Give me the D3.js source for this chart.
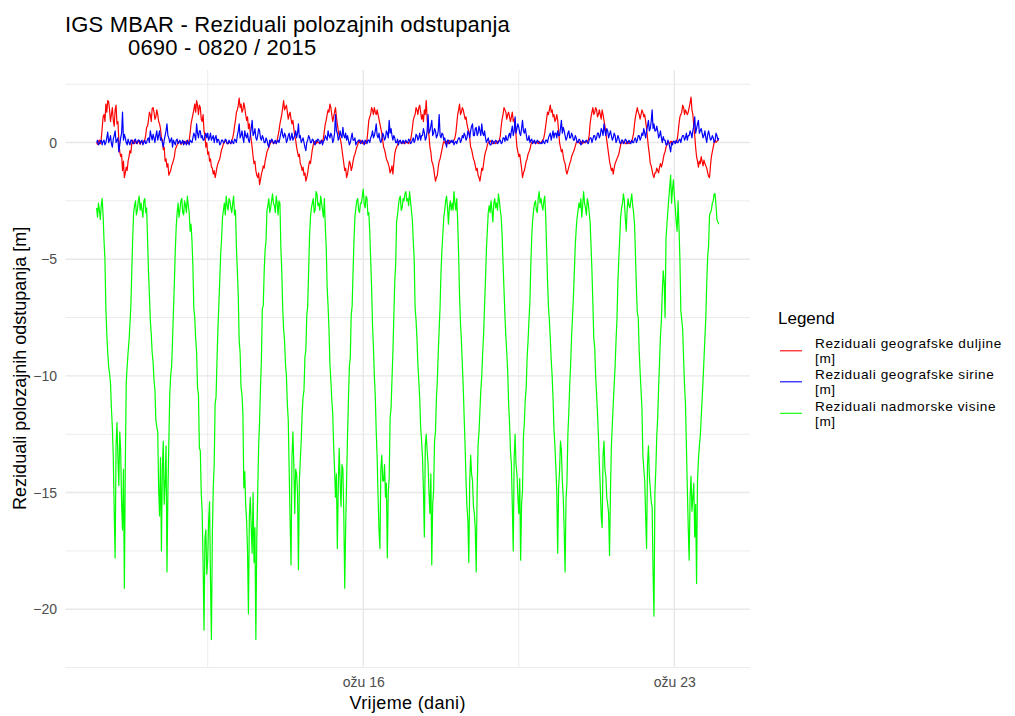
<!DOCTYPE html>
<html><head><meta charset="utf-8">
<script src="https://cdn.jsdelivr.net/npm/d3@7/dist/d3.min.js"></script>
<style>
html,body{margin:0;padding:0;background:#fff;}
svg{display:block;font-family:"Liberation Sans",Arial,sans-serif;}
</style></head>
<body>
<svg id="chart" width="1015" height="716"></svg>
<script>
// ---- data: 30-minute samples, one row per day, from 2015-03-10 00:00 (UTC); last row also holds 2015-03-24 00:00 ----
const startDate = "2015-03-10T00:00:00Z";
const samplesPerDay = 48;
const seriesNames = ["Reziduali geografske duljine\n[m]", "Reziduali geografske sirine\n[m]", "Reziduali nadmorske visine\n[m]"];
const seriesColors = ["#ff0000", "#0000ff", "#00ff00"];

const duljina = [
 [0.0,-0.08,0.05,0.1,-0.05,0.15,0.6,1.1,1.2,0.9,1.65,1.3,1.8,1.75,1.4,0.9,1.2,1.5,0.95,0.7,1.4,1.6,0.8,0.9,0.1,-0.4,-0.6,-0.5,-1.2,-0.8,-1.5,-1.3,-1.05,-1.2,-0.8,-0.6,-0.35,-0.45,-0.05,0.1,0.0,-0.05,0.08,0.0,-0.05,0.1,0.02,-0.08],
 [0.05,0.0,-0.05,0.08,0.1,0.3,0.65,0.7,0.95,1.3,1.2,0.9,1.45,1.5,1.3,1.0,1.1,1.4,1.2,0.9,0.8,0.6,0.2,0.1,-0.3,-0.2,-0.8,-0.7,-1.05,-0.9,-1.4,-1.3,-1.2,-1.0,-0.9,-0.75,-0.6,-0.3,-0.2,-0.1,0.0,0.05,0.05,-0.08,-0.05,0.05,0.05,-0.05],
 [0.0,0.08,-0.05,0.0,0.1,0.4,0.8,1.0,1.2,1.4,1.65,1.3,1.8,1.6,1.2,1.6,1.5,1.0,0.9,1.2,0.5,0.3,-0.2,0.0,-0.5,-0.4,-0.8,-0.7,-1.05,-1.1,-1.35,-1.2,-1.5,-1.3,-1.05,-0.9,-0.8,-0.7,-0.5,-0.3,-0.2,-0.05,0.0,0.1,0.05,-0.05,-0.05,0.05],
 [0.0,-0.05,0.1,0.2,0.4,0.7,0.95,1.3,1.4,1.6,1.9,1.5,1.65,1.3,1.4,1.7,1.5,1.2,0.95,1.1,0.6,0.8,0.4,0.1,-0.2,-0.6,-0.9,-0.8,-1.2,-1.4,-1.5,-1.3,-1.8,-1.6,-1.35,-1.2,-1.0,-1.1,-0.8,-0.6,-0.4,-0.3,-0.2,-0.1,0.0,0.08,0.05,-0.05],
 [0.0,0.05,-0.05,0.1,0.3,0.5,0.8,1.0,1.2,1.5,1.8,1.4,1.5,1.6,1.3,1.0,1.2,1.3,1.0,0.8,0.95,0.6,0.3,0.1,-0.2,-0.4,-0.6,-0.5,-0.9,-1.0,-1.2,-1.05,-1.4,-1.3,-1.65,-1.5,-1.3,-1.0,-0.8,-0.9,-0.6,-0.3,-0.1,0.05,0.0,-0.05,0.05,0.0],
 [0.0,-0.05,0.05,0.1,0.0,0.2,0.5,0.8,0.95,1.2,1.4,1.3,1.65,1.5,1.2,0.9,1.1,1.3,1.5,1.1,0.8,0.5,0.3,0.2,0.0,-0.3,-0.6,-0.9,-1.2,-1.1,-1.5,-1.35,-1.1,-0.8,-0.9,-1.2,-1.05,-0.8,-0.6,-0.5,-0.35,-0.2,-0.1,0.05,0.0,0.1,0.05,-0.05],
 [0.0,0.05,-0.05,0.0,0.1,0.5,0.95,1.1,1.2,1.5,1.4,1.2,1.5,1.3,1.2,1.4,1.2,1.0,0.8,0.6,0.4,0.1,-0.2,-0.3,-0.5,-0.7,-0.8,-0.9,-1.05,-1.3,-1.2,-1.0,-1.35,-0.9,-0.5,-0.3,-0.2,-0.1,0.0,0.08,0.05,0.0,-0.05,0.05,0.0,-0.05,0.05,0.0],
 [0.0,-0.05,0.05,0.1,0.3,0.6,0.95,1.1,1.2,1.5,1.4,1.2,1.5,1.6,1.3,1.0,1.2,0.9,1.4,1.2,1.8,1.0,0.5,0.3,-0.2,-0.4,-0.8,-0.9,-1.1,-1.4,-1.65,-1.5,-1.4,-1.05,-0.8,-0.7,-0.5,-0.3,-0.1,0.05,0.0,-0.05,0.05,0.0,-0.05,0.08,0.0,0.05],
 [0.05,0.0,0.1,0.2,0.4,0.8,1.2,1.4,1.65,1.2,1.3,1.5,1.4,1.2,1.0,1.1,0.8,0.6,0.5,0.2,-0.2,-0.3,-0.5,-0.7,-0.8,-1.0,-1.2,-1.1,-1.4,-1.5,-1.65,-1.4,-1.1,-1.2,-0.9,-0.6,-0.4,-0.3,-0.1,0.0,0.0,0.08,0.05,-0.05,-0.05,0.05,0.0,-0.05],
 [0.0,0.05,0.05,0.1,0.3,0.7,1.0,1.2,1.5,1.4,1.3,1.0,1.2,1.3,1.1,0.9,1.1,1.3,0.9,1.0,0.8,0.3,-0.2,-0.4,-0.6,-0.5,-0.8,-1.1,-1.5,-1.3,-1.2,-1.0,-0.8,-0.7,-0.5,-0.4,-0.3,-0.1,0.0,0.05,0.05,0.0,-0.05,0.05,0.0,-0.05,0.05,0.0],
 [0.0,0.05,0.1,0.2,0.4,0.7,1.0,1.3,1.2,1.4,1.6,1.3,1.4,1.1,1.2,0.9,1.0,1.2,0.95,0.5,0.0,-0.2,-0.4,-0.3,-0.6,-0.8,-0.9,-1.2,-1.35,-1.2,-1.05,-0.9,-0.8,-0.6,-0.5,-0.4,-0.3,-0.15,0.0,0.05,0.05,0.0,-0.05,0.05,0.0,-0.05,0.05,0.0],
 [0.0,0.05,0.05,0.1,0.3,0.8,1.1,1.3,1.5,1.2,1.3,1.5,1.4,1.1,1.2,1.4,1.2,1.0,1.4,1.2,0.95,0.7,0.4,0.1,-0.2,-0.5,-0.8,-1.0,-1.2,-1.1,-1.35,-1.1,-0.9,-0.8,-0.7,-0.6,-0.5,-0.3,-0.1,0.0,0.0,0.05,0.05,-0.05,-0.05,0.05,0.0,-0.05],
 [0.0,0.05,0.05,0.2,0.4,0.8,1.1,1.3,1.5,1.3,1.2,1.0,1.2,1.4,1.3,1.1,1.2,0.9,0.6,0.2,-0.2,-0.5,-0.9,-1.0,-1.2,-1.4,-1.5,-1.3,-1.3,-1.1,-1.2,-1.3,-1.05,-0.9,-1.05,-0.9,-0.7,-0.5,-0.4,-0.2,-0.1,0.05,0.0,-0.05,0.05,0.05,0.0,0.05],
 [0.05,0.0,0.0,0.1,0.4,0.8,1.1,1.2,1.3,1.6,1.5,1.2,1.4,1.3,1.2,1.3,1.5,1.7,1.95,1.4,1.2,0.7,0.3,-0.2,-0.6,-0.8,-1.05,-0.8,-0.9,-0.6,-0.8,-1.0,-0.75,-0.9,-1.0,-1.1,-1.3,-1.45,-1.5,-1.0,-0.6,-0.4,-0.2,0.0,0.1,0.0,0.05,0.1,0.1]
];

const sirina = [
 [0.0,0.1,-0.1,-0.05,0.05,0.1,-0.1,0.05,0.1,-0.1,0.0,0.2,0.45,0.0,0.1,0.3,-0.05,-0.2,0.15,0.3,0.5,0.0,0.1,0.2,-0.4,-0.1,0.2,0.4,1.3,0.1,0.35,0.2,0.0,-0.1,0.15,0.0,-0.1,0.1,0.1,-0.05,-0.05,0.1,0.15,-0.05,0.0,0.1,0.1,-0.05],
 [0.05,0.1,-0.1,0.0,0.1,-0.05,0.0,0.15,0.2,0.0,0.5,0.3,0.1,0.35,0.2,0.0,0.3,0.5,0.1,0.3,0.5,0.1,0.2,0.0,-0.2,0.1,0.3,0.5,0.8,0.3,0.2,0.0,0.1,0.2,-0.2,0.1,0.0,-0.1,0.1,0.15,-0.05,0.0,0.1,-0.05,0.0,0.1,-0.1,0.05],
 [0.0,-0.1,0.1,0.0,-0.1,0.1,0.05,0.0,0.2,0.4,0.3,0.1,0.8,0.4,0.2,0.5,0.5,0.2,0.3,0.1,0.1,0.3,0.4,0.2,0.4,0.1,0.2,0.4,0.1,0.2,0.3,0.0,0.2,0.3,0.0,0.15,0.1,-0.1,-0.05,0.1,0.1,0.0,0.0,0.15,0.1,-0.05,-0.05,0.1],
 [0.0,-0.05,0.1,0.0,-0.05,0.15,0.1,0.0,0.3,0.5,0.8,0.2,0.3,0.5,0.2,0.0,0.5,0.3,0.2,0.4,0.1,0.0,0.3,0.6,0.95,0.3,0.4,0.6,0.2,0.1,0.3,0.6,0.5,0.2,0.1,0.3,0.2,0.0,0.0,0.2,0.1,-0.1,-0.2,0.1,0.0,0.15,0.1,-0.05],
 [0.0,0.1,-0.05,0.05,0.1,0.0,0.2,0.4,0.6,0.3,0.2,0.4,0.3,0.0,0.1,0.3,0.4,0.1,0.2,0.4,0.1,0.2,0.3,0.5,0.2,0.4,0.8,0.2,0.3,0.0,0.1,0.2,0.0,-0.2,-0.35,0.0,0.1,0.3,0.2,0.0,0.0,0.15,0.1,-0.05,-0.1,0.1,0.05,0.15],
 [0.1,-0.05,0.0,0.1,-0.1,0.05,0.1,0.3,0.2,0.1,0.5,0.3,0.2,0.4,0.3,0.0,0.1,0.4,1.2,0.5,0.4,0.1,0.2,0.5,0.3,0.2,0.65,0.3,0.2,0.4,0.1,0.3,0.1,-0.1,0.0,0.2,0.4,0.1,0.1,0.2,-0.1,0.0,0.05,0.1,0.1,-0.05,0.0,0.1],
 [0.0,-0.1,0.1,0.05,-0.05,0.1,0.1,0.0,0.2,0.3,0.5,0.2,0.3,0.5,0.8,0.3,0.2,0.4,0.1,0.0,0.15,0.4,0.3,0.1,0.2,0.5,0.4,0.2,0.95,0.4,0.6,0.3,0.1,0.3,0.2,0.0,0.0,0.15,-0.1,0.05,0.1,-0.05,0.0,0.1,-0.05,0.05,0.1,0.0],
 [0.0,0.15,0.1,-0.05,0.0,0.1,0.2,0.0,0.1,0.35,0.3,0.1,0.2,0.4,0.1,0.3,0.3,0.6,0.4,0.1,0.2,0.5,1.2,0.4,0.5,0.7,0.95,0.3,0.4,0.6,0.5,0.2,0.3,0.5,1.2,0.3,0.2,0.4,0.35,0.1,0.2,0.0,-0.2,0.1,0.1,-0.05,0.0,0.1],
 [0.0,0.1,-0.1,0.0,0.05,-0.05,0.1,0.2,0.2,0.0,0.1,0.3,0.2,0.4,0.3,0.1,0.2,0.5,0.4,0.2,0.5,0.7,0.8,0.3,0.3,0.6,0.65,0.3,0.4,0.7,0.5,0.3,0.8,0.4,0.3,0.5,0.2,0.0,0.1,0.2,0.0,-0.1,-0.1,0.1,0.05,-0.05,0.0,0.1],
 [0.05,-0.05,0.0,0.1,0.1,-0.05,0.0,0.2,0.2,0.05,0.3,0.1,0.1,0.3,0.4,0.2,0.5,0.7,0.3,0.5,1.1,0.4,0.6,0.8,0.65,0.4,0.3,0.6,0.95,0.5,0.4,0.6,0.35,0.1,0.1,0.3,0.0,0.1,0.15,-0.05,0.05,0.1,-0.05,0.0,0.1,0.05,0.0,-0.05],
 [0.0,-0.05,0.1,0.0,-0.05,0.1,0.1,0.0,0.2,0.3,0.4,0.1,0.3,0.5,0.2,0.4,0.4,0.2,0.5,0.3,0.3,0.6,0.95,0.4,0.65,0.5,0.3,0.1,0.2,0.4,0.5,0.2,0.2,0.4,0.3,0.1,0.1,0.3,0.2,0.0,0.0,0.15,0.1,-0.1,-0.05,0.1,0.05,0.0],
 [0.05,0.1,0.0,-0.05,0.1,0.2,0.2,0.0,0.15,0.3,0.3,0.1,0.2,0.4,0.4,0.2,0.3,0.6,0.5,0.3,0.8,0.5,0.3,0.6,0.5,0.2,0.35,0.5,0.3,0.1,0.2,0.4,0.3,0.0,0.1,0.3,0.2,0.0,-0.05,0.1,0.1,-0.05,0.0,0.15,0.1,-0.05,0.0,0.1],
 [0.0,-0.05,0.1,0.0,0.0,0.15,0.2,0.0,0.1,0.3,0.3,0.1,0.2,0.4,0.3,0.6,0.4,0.2,0.5,0.7,0.95,0.5,0.6,0.9,1.4,0.6,0.8,0.5,0.5,0.7,0.5,0.2,0.3,0.5,0.2,0.0,0.25,0.1,0.1,-0.1,-0.1,0.1,0.0,-0.2,-0.4,0.0,-0.1,0.05],
 [0.05,-0.05,0.1,0.0,0.0,0.1,0.15,0.0,0.2,0.3,0.3,0.1,0.2,0.4,0.1,0.3,0.3,0.5,0.4,0.2,0.5,0.7,1.1,0.4,0.6,0.8,0.95,0.4,0.5,0.6,0.4,0.2,0.3,0.5,0.2,0.0,0.35,0.5,0.3,0.1,0.15,0.3,0.2,0.0,0.1,0.4,0.3,0.1,0.2]
];

const visina = [
 [-2.8,-3.2,-2.6,-2.9,-3.3,-2.7,-2.4,-3.1,-4.2,-5.0,-7.1,-8.2,-9.0,-9.6,-9.9,-10.3,-11.4,-12.2,-13.5,-15.8,-17.8,-13.0,-12.0,-13.5,-14.7,-12.4,-13.2,-15.5,-16.6,-14.0,-19.1,-13.8,-10.3,-9.6,-9.0,-8.5,-7.8,-7.0,-5.5,-4.1,-3.0,-2.7,-2.5,-3.1,-2.9,-2.5,-2.3,-2.9],
 [-2.6,-2.9,-3.2,-2.5,-2.4,-3.0,-2.8,-4.1,-5.5,-6.5,-7.6,-8.2,-9.0,-9.4,-10.2,-10.6,-11.9,-12.2,-12.4,-14.8,-16.0,-13.5,-17.5,-14.0,-12.8,-15.5,-14.6,-13.0,-18.4,-15.0,-12.9,-10.8,-10.0,-9.6,-8.5,-7.2,-6.0,-4.6,-3.6,-3.0,-2.6,-3.2,-2.9,-2.5,-2.4,-3.0,-3.1,-2.5],
 [-2.7,-3.0,-2.3,-2.7,-3.0,-3.8,-3.5,-4.2,-5.3,-7.1,-7.5,-8.4,-9.0,-10.5,-10.8,-13.1,-13.2,-15.0,-15.8,-18.0,-20.9,-17.0,-16.6,-18.5,-17.9,-16.2,-15.4,-18.8,-21.3,-16.8,-14.8,-13.8,-11.2,-10.9,-9.4,-8.0,-7.0,-5.9,-4.8,-4.1,-3.2,-2.9,-2.6,-3.1,-2.3,-2.7,-2.9,-2.4],
 [-2.5,-2.8,-3.0,-2.6,-2.3,-3.1,-2.9,-4.5,-5.5,-6.6,-8.5,-9.0,-10.5,-10.8,-11.6,-14.8,-14.1,-15.5,-16.2,-17.5,-20.2,-16.0,-15.2,-16.5,-17.6,-15.0,-18.0,-16.5,-21.3,-17.0,-15.0,-13.0,-12.0,-10.5,-9.3,-7.1,-7.0,-5.5,-4.6,-4.2,-2.9,-2.7,-2.4,-3.0,-2.8,-2.5,-2.2,-2.6],
 [-2.7,-3.0,-2.3,-2.6,-3.1,-2.5,-2.6,-4.5,-5.5,-7.1,-8.0,-8.5,-9.5,-10.0,-11.2,-11.9,-14.1,-16.2,-18.1,-13.5,-12.4,-13.8,-15.9,-14.0,-14.2,-15.0,-18.3,-14.5,-13.6,-12.8,-11.6,-10.9,-10.6,-9.2,-8.9,-7.4,-7.0,-5.5,-4.0,-3.2,-2.8,-2.6,-2.4,-3.0,-2.9,-2.1,-2.2,-2.7],
 [-2.6,-2.9,-2.3,-2.6,-2.9,-3.2,-2.4,-3.6,-4.5,-6.2,-7.0,-8.0,-9.5,-10.2,-11.0,-11.6,-13.0,-14.0,-15.2,-14.2,-17.4,-14.8,-13.1,-14.5,-15.6,-13.8,-14.0,-16.0,-19.1,-16.5,-14.5,-12.6,-11.0,-9.6,-9.2,-7.4,-7.0,-5.5,-4.2,-3.2,-2.8,-2.5,-2.4,-2.9,-3.0,-2.6,-2.6,-2.3],
 [-2.0,-2.6,-2.8,-2.3,-2.4,-3.1,-3.0,-3.8,-5.0,-6.2,-7.8,-8.8,-10.0,-10.9,-12.4,-13.5,-15.2,-16.6,-17.4,-14.0,-13.4,-14.5,-14.5,-13.8,-15.2,-14.6,-17.8,-15.0,-14.4,-11.8,-11.4,-10.2,-9.0,-7.5,-6.0,-5.2,-3.4,-3.1,-2.7,-2.4,-2.3,-2.9,-2.8,-2.4,-2.5,-2.2,-2.1,-2.5],
 [-2.4,-2.7,-2.1,-2.5,-2.9,-3.3,-4.2,-5.0,-7.1,-7.6,-8.4,-9.5,-10.2,-11.0,-12.2,-12.8,-13.5,-14.9,-16.9,-13.0,-12.5,-13.2,-13.8,-15.0,-15.9,-14.2,-18.1,-15.5,-14.9,-12.8,-12.4,-11.0,-10.2,-9.0,-8.0,-7.0,-5.5,-4.6,-3.9,-3.2,-2.9,-2.5,-2.3,-2.8,-3.5,-2.8,-2.5,-2.9],
 [-2.6,-2.9,-2.1,-2.6,-2.9,-2.4,-3.4,-4.8,-6.6,-7.7,-8.5,-9.5,-10.5,-11.8,-13.0,-14.5,-15.6,-16.2,-18.0,-14.5,-13.4,-14.2,-14.5,-15.6,-15.9,-16.6,-18.4,-14.9,-13.0,-12.4,-11.5,-10.6,-10.0,-9.0,-8.2,-7.0,-5.9,-4.6,-3.8,-3.0,-2.7,-3.0,-2.5,-2.9,-3.4,-2.6,-2.4,-2.8],
 [-2.6,-2.9,-2.2,-2.5,-2.9,-3.2,-4.0,-5.2,-6.3,-7.4,-8.3,-9.0,-9.8,-11.2,-12.0,-13.2,-13.8,-15.6,-17.5,-13.5,-12.5,-13.8,-14.2,-15.2,-15.9,-14.4,-17.9,-15.5,-14.9,-12.6,-12.0,-11.0,-10.5,-9.2,-8.5,-7.6,-6.8,-5.2,-4.0,-3.3,-2.9,-2.6,-2.5,-2.9,-3.0,-2.4,-2.1,-2.6],
 [-2.4,-2.7,-2.9,-2.5,-2.3,-3.1,-4.5,-5.9,-7.0,-7.6,-8.4,-9.3,-10.0,-11.0,-12.3,-13.0,-13.9,-15.0,-17.6,-14.8,-14.1,-12.8,-13.2,-14.5,-15.2,-16.6,-18.4,-15.3,-14.6,-12.5,-11.6,-10.4,-9.5,-8.3,-7.5,-6.6,-5.5,-4.4,-3.7,-3.2,-2.9,-2.6,-2.8,-2.4,-3.2,-2.7,-2.1,-2.6],
 [-2.8,-3.1,-2.4,-2.6,-3.0,-3.4,-4.4,-5.5,-6.9,-8.4,-8.8,-10.0,-10.8,-11.6,-12.6,-13.8,-14.8,-16.0,-16.5,-13.4,-12.8,-14.0,-14.3,-15.2,-15.5,-15.9,-17.7,-15.0,-13.0,-12.1,-11.2,-10.4,-9.6,-8.5,-7.6,-6.0,-5.0,-4.1,-3.2,-2.8,-2.6,-2.2,-2.5,-3.2,-3.8,-2.9,-2.4,-2.7],
 [-2.8,-2.5,-2.2,-2.7,-3.0,-3.5,-4.8,-6.2,-7.3,-7.5,-8.9,-9.8,-10.6,-11.4,-13.4,-14.0,-14.5,-16.0,-17.4,-13.8,-13.0,-14.3,-14.8,-15.4,-15.6,-18.4,-20.3,-15.0,-14.0,-12.6,-11.8,-10.5,-9.4,-8.3,-7.6,-6.4,-5.5,-6.0,-7.5,-4.1,-3.5,-2.9,-2.4,-1.9,-1.4,-2.6,-2.0,-1.6],
 [-2.3,-2.8,-3.4,-3.8,-2.5,-3.6,-5.0,-7.2,-7.6,-8.0,-9.3,-10.4,-11.2,-13.0,-14.8,-16.5,-17.9,-15.2,-14.3,-15.8,-15.2,-14.6,-16.9,-15.5,-18.9,-14.5,-13.6,-13.0,-12.6,-11.8,-11.0,-10.2,-9.3,-8.4,-7.5,-6.0,-4.9,-4.4,-3.1,-3.0,-2.9,-2.6,-2.5,-2.2,-2.2,-2.7,-3.3,-3.4,-3.5]
];

const xTickDates = ["2015-03-16T00:00:00Z", "2015-03-23T00:00:00Z"];
const xTickLabels = ["ožu 16", "ožu 23"];
const xMinorDates = ["2015-03-12T12:00:00Z", "2015-03-19T12:00:00Z"];
const yTicks = [0, -5, -10, -15, -20];
const yMinor = [2.5, -2.5, -7.5, -12.5, -17.5, -22.5];

const titleLines = ["IGS MBAR - Reziduali polozajnih odstupanja", "0690 - 0820 / 2015"];
const xTitle = "Vrijeme (dani)";
const yTitle = "Reziduali polozajnih odstupanja [m]";
const legendTitle = "Legend";

// ---- build points ----
const t0 = new Date(startDate).getTime();
const DAY = 864e5;
function toPoints(days) {
  const pts = [];
  days.forEach((row, d) => row.forEach((v, j) => pts.push({t: new Date(t0 + (d + j / samplesPerDay) * DAY), v})));
  return pts;
}
const series = [duljina, sirina, visina].map(toPoints);

// ---- layout ----
const svg = d3.select("#chart");
const P = {left: 65.5, right: 749.9, top: 69.9, bottom: 666.7};
const allPts = series.flat();
const tMin = d3.min(allPts, p => p.t.getTime()), tMax = d3.max(allPts, p => p.t.getTime());
const xPad = (tMax - tMin) * 0.05;
const x = d3.scaleUtc().domain([new Date(tMin - xPad), new Date(tMax + xPad)]).range([P.left, P.right]);
const vMin = d3.min(allPts, p => p.v), vMax = d3.max(allPts, p => p.v);
const yPad = (vMax - vMin) * 0.05;
const y = d3.scaleLinear().domain([vMin - yPad, vMax + yPad]).range([P.bottom, P.top]);

// grid
const grid = svg.append("g");
yMinor.forEach(v => grid.append("line").attr("x1", P.left).attr("x2", P.right)
  .attr("y1", y(v)).attr("y2", y(v)).attr("stroke", "#ebebeb").attr("stroke-width", 1));
xMinorDates.forEach(d => grid.append("line").attr("y1", P.top).attr("y2", P.bottom)
  .attr("x1", x(new Date(d))).attr("x2", x(new Date(d))).attr("stroke", "#ebebeb").attr("stroke-width", 1));
yTicks.forEach(v => grid.append("line").attr("x1", P.left).attr("x2", P.right)
  .attr("y1", y(v)).attr("y2", y(v)).attr("stroke", "#e8e8e8").attr("stroke-width", 1.4));
xTickDates.forEach(d => grid.append("line").attr("y1", P.top).attr("y2", P.bottom)
  .attr("x1", x(new Date(d))).attr("x2", x(new Date(d))).attr("stroke", "#e8e8e8").attr("stroke-width", 1.4));

// series lines
const line = d3.line().x(p => x(p.t)).y(p => y(p.v));
series.forEach((pts, k) => {
  svg.append("path").datum(pts).attr("d", line).attr("fill", "none")
    .attr("stroke", seriesColors[k]).attr("stroke-width", 1.2).attr("stroke-linejoin", "round");
});

// axes
const yAxis = d3.axisLeft(y).tickValues(yTicks).tickSize(0).tickPadding(8.5).tickFormat(d3.format("d"));
const gy = svg.append("g").attr("transform", `translate(${P.left},0)`).call(yAxis);
gy.select(".domain").remove();
gy.selectAll("text").attr("fill", "#4d4d4d").style("font-size", "14px").style("font-family", "Liberation Sans, Arial, sans-serif");

const xAxis = d3.axisBottom(x).tickValues(xTickDates.map(d => new Date(d))).tickSize(0).tickPadding(10.5)
  .tickFormat((d, i) => xTickLabels[i]);
const gx = svg.append("g").attr("transform", `translate(0,${P.bottom})`).call(xAxis);
gx.select(".domain").remove();
gx.selectAll("text").attr("fill", "#4d4d4d").style("font-size", "14px").style("font-family", "Liberation Sans, Arial, sans-serif");

// titles
svg.append("text").attr("x", 65).attr("y", 31.5).style("font-size", "22px").style("letter-spacing", "0.2px")
  .attr("fill", "#000").text(titleLines[0]);
svg.append("text").attr("x", 128).attr("y", 55).style("font-size", "22px").style("letter-spacing", "0.2px")
  .attr("fill", "#000").text(titleLines[1]);
svg.append("text").attr("x", (P.left + P.right) / 2).attr("y", 709).attr("text-anchor", "middle")
  .style("font-size", "18px").style("letter-spacing", "0.35px").attr("fill", "#000").text(xTitle);
svg.append("text").attr("transform", `translate(26,${(P.top + P.bottom) / 2}) rotate(-90)`).attr("text-anchor", "middle")
  .style("font-size", "18px").attr("fill", "#000").text(yTitle);

// legend
const lg = svg.append("g");
lg.append("text").attr("x", 778).attr("y", 323.5).style("font-size", "17px").attr("fill", "#000").text(legendTitle);
const entryBaseline = [348, 379, 410.5];
const lineGap = 15.4;
seriesNames.forEach((name, k) => {
  const ky = entryBaseline[k] + 2.8;
  lg.append("line").attr("x1", 780).attr("x2", 802).attr("y1", ky).attr("y2", ky)
    .attr("stroke", seriesColors[k]).attr("stroke-width", 1.1);
  name.split("\n").forEach((p, j) => {
    lg.append("text").attr("x", 815).attr("y", entryBaseline[k] + j * lineGap)
      .style("font-size", "13.6px").style("letter-spacing", "0.6px").attr("fill", "#000").text(p);
  });
});
</script>
</body></html>
